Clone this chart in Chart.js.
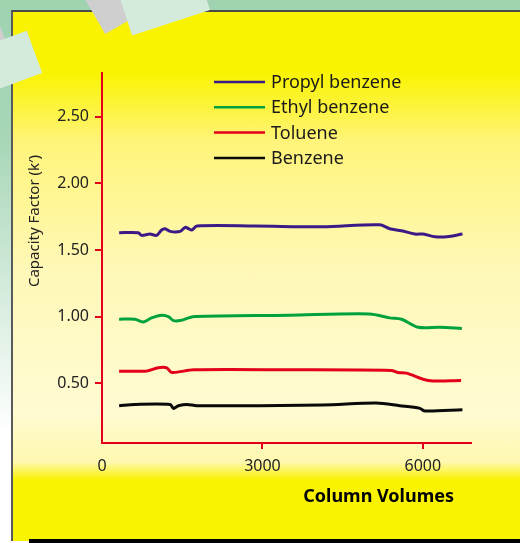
<!DOCTYPE html>
<html>
<head>
<meta charset="utf-8">
<script src="https://cdn.jsdelivr.net/npm/chart.js@4"></script>
<style>
  html, body { margin: 0; padding: 0; }
  body {
    width: 520px; height: 543px; position: relative; overflow: hidden;
    background: linear-gradient(to bottom, #9fd3b0 0%, #a6d6b6 25%, #ffffff 80%, #ffffff 100%);
  }
  #panel {
    position: absolute; left: 11px; top: 10px; width: 509px; height: 529px;
    border-left: 2px solid #5a5a5a; border-top: 2px solid #4a4a4a;
    background: linear-gradient(to bottom, #f9f300 0px, #f9f300 60px, #fff47a 130px, #fff8b8 260px, #fffbd2 400px, #fff8b0 450px, #f9f200 468px, #f9f200 100%);
  }
  #shadow { position: absolute; left: 29px; top: 539px; width: 491px; height: 4px; background: #000; }
  .tape { position: absolute; }
  #t1 { left: 88px; top: -30px; width: 40px; height: 58px; background: #cfcfcf; transform: rotate(-30deg); }
  #t2 { left: 122px; top: -28px; width: 82px; height: 52px; background: #d4eadb; transform: rotate(-18deg); }
  #t3 { left: -8px; top: 22px; width: 10px; height: 20px; background: #cfcfcf; transform: rotate(-20deg); }
  #t4 { left: -14px; top: 38px; width: 50px; height: 45px; background: #d4eadb; transform: rotate(-20deg); }
  canvas { position: absolute; left: 0; top: 0; }
</style>
</head>
<body>
<div id="panel"></div>
<div id="shadow"></div>
<div class="tape" id="t1"></div>
<div class="tape" id="t2"></div>
<div class="tape" id="t3"></div>
<div class="tape" id="t4"></div>
<canvas id="MyChart" width="520" height="543"></canvas>
<script>
// values
const seriesNames = ['Propyl benzene', 'Ethyl benzene', 'Toluene', 'Benzene']
const seriesColors = ['#3b1a88', '#00a23e', '#e3001b', '#0a0a0a']

const propylX = [320, 677, 739, 897, 1021, 1115, 1179, 1273, 1461, 1556, 1618, 1680, 1774, 2872, 4125, 5192, 5380, 5600, 5850, 6006, 6226, 6446, 6740]
const propylY = [1.63, 1.63, 1.61, 1.62, 1.61, 1.65, 1.66, 1.64, 1.64, 1.67, 1.66, 1.65, 1.68, 1.68, 1.675, 1.69, 1.66, 1.645, 1.62, 1.62, 1.60, 1.60, 1.62]

const ethylX = [320, 615, 771, 927, 1115, 1241, 1336, 1461, 1618, 1744, 3499, 5004, 5380, 5600, 5912, 6320, 6729]
const ethylY = [0.98, 0.98, 0.96, 0.99, 1.01, 1.00, 0.97, 0.97, 0.99, 1.00, 1.01, 1.02, 0.99, 0.98, 0.92, 0.92, 0.91]

const tolueneX = [320, 615, 833, 1053, 1210, 1304, 1712, 3499, 5412, 5536, 5694, 6100, 6715]
const tolueneY = [0.59, 0.59, 0.59, 0.615, 0.615, 0.58, 0.60, 0.60, 0.595, 0.58, 0.575, 0.52, 0.52]

const benzeneX = [320, 615, 1273, 1336, 1430, 1586, 1774, 4125, 5130, 5568, 5944, 6038, 6740]
const benzeneY = [0.33, 0.34, 0.34, 0.31, 0.33, 0.34, 0.33, 0.335, 0.35, 0.33, 0.31, 0.29, 0.30]

const xTicks = [0, 3000, 6000]
const yTicks = [0.5, 1.0, 1.5, 2.0, 2.5]

const xTitle = 'Column Volumes'
const yTitle = 'Capacity Factor (k\u2032)'

const axisRed = '#e3001b'
const font = '"Noto Sans", "Open Sans", sans-serif'

function points(xs, ys) {
    return xs.map((x, i) => ({ x: x, y: ys[i] }))
}

const allX = [propylX, ethylX, tolueneX, benzeneX]
const allY = [propylY, ethylY, tolueneY, benzeneY]

// legend inside the plot + the two axis titles
const extras = {
    id: 'extras',
    afterDatasetsDraw(chart) {
        const c = chart.ctx
        const a = chart.chartArea
        c.save()
        c.font = '18px ' + font
        c.textBaseline = 'middle'
        c.textAlign = 'left'
        chart.data.datasets.forEach((ds, i) => {
            const y = a.top + 9 + i * 25.3
            c.strokeStyle = ds.borderColor
            c.lineWidth = 2.5
            c.beginPath()
            c.moveTo(a.left + 112, y)
            c.lineTo(a.left + 163, y)
            c.stroke()
            c.fillStyle = '#1a1a1a'
            c.fillText(ds.label, a.left + 169, y + 1)
        })

        c.font = 'bold 18px ' + font
        c.fillStyle = '#000'
        c.textAlign = 'right'
        c.fillText(xTitle, 454, 497)

        c.translate(35, 221)
        c.rotate(-Math.PI / 2)
        c.font = '15px ' + font
        c.fillStyle = '#222'
        c.textAlign = 'center'
        c.fillText(yTitle, 0, 0)
        c.restore()
    }
}

let MyChart = document.getElementById('MyChart').getContext('2d')

let capacityChart = new Chart(MyChart, {
    type: 'line',
    data: {
        datasets: seriesNames.map((name, i) => ({
            label: name,
            data: points(allX[i], allY[i]),
            borderColor: seriesColors[i],
            borderWidth: 3,
            pointRadius: 0,
            tension: 0.3,
            fill: false
        }))
    },
    options: {
        responsive: false,
        animation: false,
        layout: { padding: { top: 73, right: 49, left: 0, bottom: 0 } },
        plugins: {
            legend: { display: false },
            tooltip: { enabled: false }
        },
        scales: {
            x: {
                type: 'linear',
                min: 0,
                max: 6900,
                afterBuildTicks: s => { s.ticks = xTicks.map(v => ({ value: v })) },
                afterFit: s => { s.height = 100 },
                border: { display: true, color: axisRed, width: 2 },
                grid: {
                    drawOnChartArea: false,
                    tickLength: 6,
                    lineWidth: 2,
                    color: ctx => (ctx.tick && ctx.tick.value === 0) ? 'rgba(0,0,0,0)' : axisRed
                },
                ticks: {
                    padding: 8,
                    color: '#222',
                    font: { family: font, size: 16 },
                    maxRotation: 0,
                    callback: v => String(v)
                }
            },
            y: {
                min: 0.05,
                max: 2.83,
                afterBuildTicks: s => { s.ticks = yTicks.map(v => ({ value: v })) },
                afterFit: s => { s.width = 102 },
                border: { display: true, color: axisRed, width: 2 },
                grid: { drawOnChartArea: false, tickLength: 7, lineWidth: 2, color: axisRed },
                ticks: {
                    padding: 6,
                    color: '#222',
                    font: { family: font, size: 16 },
                    callback: v => v.toFixed(2)
                }
            }
        }
    },
    plugins: [extras]
})
</script>
</body>
</html>
